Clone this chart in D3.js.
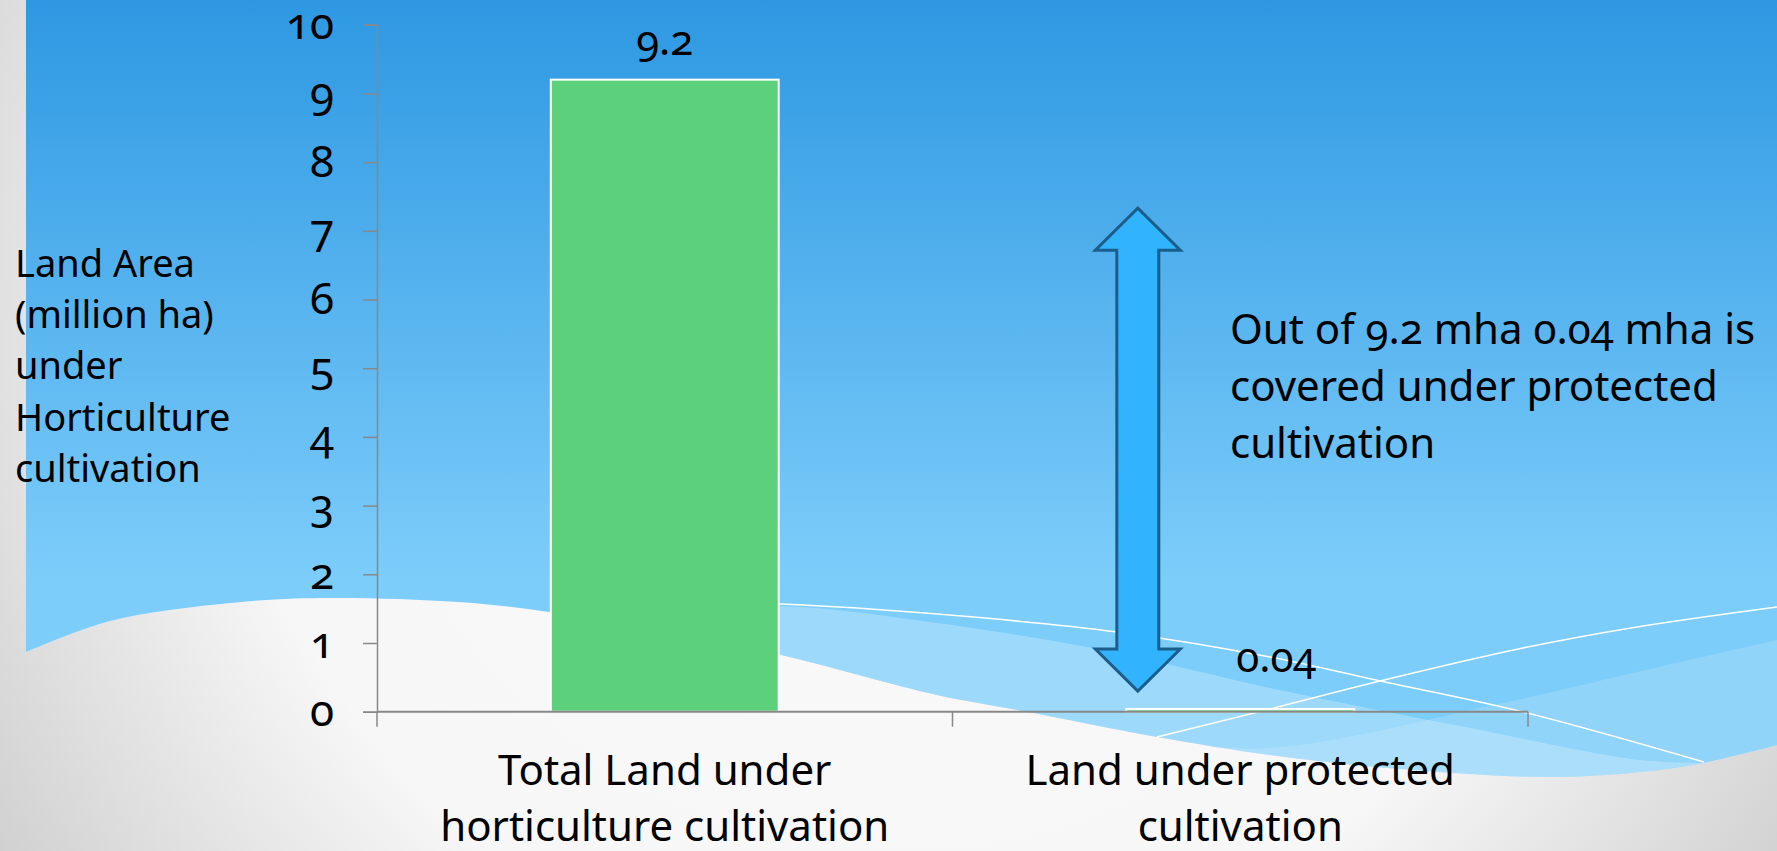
<!DOCTYPE html>
<html lang="en">
<head>
    <meta charset="UTF-8">
    <title>Land under horticulture vs protected cultivation</title>
    <script src="https://d3js.org/d3.v7.min.js"></script>
    <style>
        body {
            margin: 0;
            overflow: hidden;
        }
        svg text {
            font-family: "Noto Sans", "Open Sans", sans-serif;
            font-variant-numeric: oldstyle-nums;
            fill: #000;
        }
    </style>
</head>
<body>
    <script>
        // chart data
        const categories = ["Total Land under horticulture cultivation", "Land under protected cultivation"];
        const categoryLines = [["Total Land under", "horticulture cultivation"], ["Land under protected", "cultivation"]];
        const values = [9.2, 0.04];
        const valueLabels = ["9.2", "0.04"];
        const yTicks = [0, 1, 2, 3, 4, 5, 6, 7, 8, 9, 10];
        const yTitleLines = ["Land Area", "(million ha)", "under", "Horticulture", "cultivation"];
        const noteLines = ["Out of 9.2 mha 0.04 mha is", "covered under protected", "cultivation"];

        const width = 1777;
        const height = 851;

        const svg = d3.select("body").append("svg")
            .attr("width", width)
            .attr("height", height);

        const defs = svg.append("defs");

        // slide background: soft grey/white with a blue sky on top
        const bgGrad = defs.append("radialGradient")
            .attr("id", "bgGrad")
            .attr("gradientUnits", "userSpaceOnUse")
            .attr("cx", 900).attr("cy", 300).attr("r", 1100);
        bgGrad.append("stop").attr("offset", 0).attr("stop-color", "#fafafa");
        bgGrad.append("stop").attr("offset", 0.62).attr("stop-color", "#f7f7f7");
        bgGrad.append("stop").attr("offset", 1).attr("stop-color", "#cccccc");

        const skyGrad = defs.append("linearGradient")
            .attr("id", "skyGrad")
            .attr("gradientUnits", "userSpaceOnUse")
            .attr("x1", 0).attr("y1", 0).attr("x2", 0).attr("y2", 580);
        skyGrad.append("stop").attr("offset", 0).attr("stop-color", "#2d98e2");
        skyGrad.append("stop").attr("offset", 1).attr("stop-color", "#7dcdfa");

        svg.append("rect")
            .attr("width", width)
            .attr("height", height)
            .attr("fill", "url(#bgGrad)");

        const smooth = d3.line().curve(d3.curveCatmullRom.alpha(0.5));

        // wave edge between the blue sky and the white floor
        const wave = [[26, 652], [110, 621], [230, 603], [321, 598], [459, 602], [549, 612], [665, 632],
            [781, 655], [937, 695], [1023, 711], [1157, 737], [1270, 755], [1400, 769], [1553, 777],
            [1650, 771], [1703, 763], [1777, 745]];

        svg.append("path")
            .attr("d", "M26,0L1777,0L1777,745" + smooth(wave.slice().reverse()).replace("M", "L") + "Z")
            .attr("fill", "url(#skyGrad)");

        // lighter bands inside the wave
        const bandOne = [[560, 612], [781, 606], [937, 623], [1103, 650], [1270, 688], [1470, 728], [1640, 760], [1703, 763]];
        const bandOneBase = wave.filter(p => p[0] >= 560 && p[0] <= 1703).reverse();
        svg.append("path")
            .attr("d", smooth(bandOne) + smooth(bandOneBase).replace("M", "L") + "Z")
            .attr("fill", "#fff")
            .attr("fill-opacity", 0.25);

        const bandTwo = [[1157, 740], [1270, 748], [1503, 703], [1637, 672], [1777, 640]];
        const bandTwoBase = wave.filter(p => p[0] >= 1157).reverse();
        svg.append("path")
            .attr("d", smooth(bandTwo) + "L1777,745" + smooth(bandTwoBase).replace("M", "L") + "Z")
            .attr("fill", "#fff")
            .attr("fill-opacity", 0.15);

        // thin white swoosh lines
        const lineOne = [[720, 603], [781, 604], [937, 614], [1117, 632], [1270, 657], [1380, 681], [1523, 712], [1704, 762]];
        const lineTwo = [[1157, 737], [1270, 709], [1380, 681], [1523, 648], [1637, 627], [1777, 607]];
        [lineOne, lineTwo].forEach(pts => {
            svg.append("path")
                .attr("d", smooth(pts))
                .attr("fill", "none")
                .attr("stroke", "#fff")
                .attr("stroke-width", 1.5);
        });

        // scales
        const x = d3.scaleBand()
            .domain(categories)
            .range([377, 1528])
            .padding(0);

        const y = d3.scaleLinear()
            .domain([0, 10])
            .range([711.7, 24.7]);

        const barWidth = x.bandwidth() * 0.396;

        // y axis
        const yAxis = svg.append("g")
            .attr("transform", "translate(377,0)")
            .call(d3.axisLeft(y).tickValues(yTicks).tickSize(14).tickPadding(29).tickFormat(d3.format("d")));
        yAxis.select(".domain").attr("stroke", "#888").attr("stroke-width", 1.5);
        yAxis.selectAll(".tick line").attr("stroke", "#888").attr("stroke-width", 1.5);
        yAxis.selectAll(".tick text")
            .attr("font-size", 44)
            .attr("font-family", null)
            .attr("fill", null);

        // bars
        svg.append("g")
            .selectAll("rect")
            .data(values)
            .enter().append("rect")
            .attr("x", (d, i) => x(categories[i]) + (x.bandwidth() - barWidth) / 2)
            .attr("y", d => y(d))
            .attr("width", barWidth)
            .attr("height", d => y(0) - y(d))
            .attr("fill", "#5cd07a")
            .attr("stroke", "#fff")
            .attr("stroke-width", 2);

        // x axis: line plus ticks at the category boundaries
        svg.append("line")
            .attr("x1", x.range()[0]).attr("x2", x.range()[1])
            .attr("y1", y(0)).attr("y2", y(0))
            .attr("stroke", "#888").attr("stroke-width", 2);

        const bounds = categories.map(c => x(c)).concat([x.range()[1]]);
        svg.append("g")
            .selectAll("line")
            .data(bounds)
            .enter().append("line")
            .attr("x1", d => d).attr("x2", d => d)
            .attr("y1", y(0)).attr("y2", y(0) + 15)
            .attr("stroke", "#888").attr("stroke-width", 1.5);

        // category labels
        const catLabels = svg.append("g")
            .selectAll("text")
            .data(categoryLines)
            .enter().append("text")
            .attr("text-anchor", "middle")
            .attr("font-size", 42);
        catLabels.selectAll("tspan")
            .data((lines, i) => lines.map(t => ({ t, i })))
            .enter().append("tspan")
            .attr("x", d => x(categories[d.i]) + x.bandwidth() / 2)
            .attr("y", (d, j) => 785 + j * 56)
            .text(d => d.t);

        // value labels (the second one was nudged aside in the original)
        const labelNudge = [[0, 0], [36, -12]];
        svg.append("g")
            .selectAll("text")
            .data(values)
            .enter().append("text")
            .attr("text-anchor", "middle")
            .attr("font-size", 42)
            .attr("x", (d, i) => x(categories[i]) + x.bandwidth() / 2 + labelNudge[i][0])
            .attr("y", (d, i) => y(d) - 25 + labelNudge[i][1])
            .text((d, i) => valueLabels[i]);

        // y axis title
        svg.append("text")
            .attr("font-size", 38)
            .selectAll("tspan")
            .data(yTitleLines)
            .enter().append("tspan")
            .attr("x", 15)
            .attr("y", (d, i) => 277 + i * 51.2)
            .text(d => d);

        // double headed arrow comparing the two bars
        const ax = x(categories[1]) + x.bandwidth() * 0.322;
        const aTop = y(7.33), aBottom = y(0.3);
        const headH = 42, headW = 42.5, shaftW = 21;
        const arrow = [
            [ax, aTop], [ax + headW, aTop + headH], [ax + shaftW, aTop + headH],
            [ax + shaftW, aBottom - headH], [ax + headW, aBottom - headH], [ax, aBottom],
            [ax - headW, aBottom - headH], [ax - shaftW, aBottom - headH],
            [ax - shaftW, aTop + headH], [ax - headW, aTop + headH]
        ];
        svg.append("path")
            .attr("d", "M" + arrow.join("L") + "Z")
            .attr("fill", "#31b3fe")
            .attr("stroke", "#1b5e8c")
            .attr("stroke-width", 3)
            .attr("stroke-linejoin", "miter");

        // note text
        svg.append("text")
            .attr("font-size", 42)
            .selectAll("tspan")
            .data(noteLines)
            .enter().append("tspan")
            .attr("x", 1230)
            .attr("y", (d, i) => 344 + i * 57)
            .text(d => d);
    </script>
</body>
</html>
